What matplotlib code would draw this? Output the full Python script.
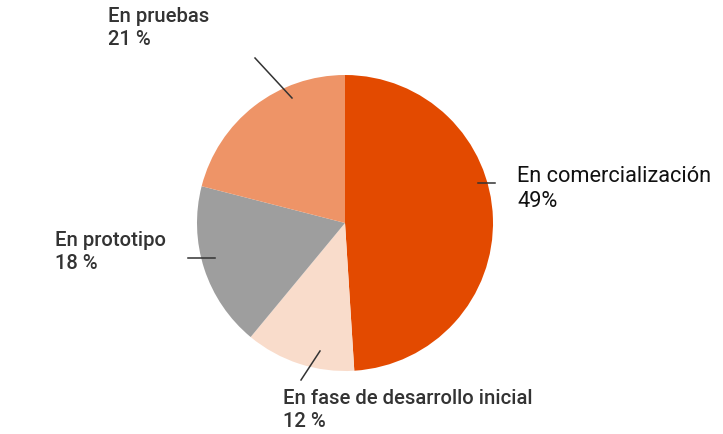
import matplotlib
matplotlib.use("Agg")
import matplotlib.pyplot as plt

labels = ["En comercialización", "En fase de desarrollo inicial", "En prototipo", "En pruebas"]
values = [49, 12, 18, 21]
pct_text = ["49%", "12 %", "18 %", "21 %"]
colors = ["#E34A00", "#F9DCCB", "#9E9E9E", "#EE9467"]

W, H = 723, 434

def py(y):
    # image pixel y (top-down) -> axes y
    return H - y

fig = plt.figure(figsize=(W / 100, H / 100), dpi=100)
ax = fig.add_axes([0, 0, 1, 1])

ax.pie(values, colors=colors, startangle=90, counterclock=False,
       center=(345, py(223)), radius=148, frame=True,
       wedgeprops=dict(linewidth=0))
ax.set_xlim(0, W)
ax.set_ylim(0, H)
ax.set_aspect("equal")
ax.axis("off")

# label layout: text top-left, leader line start/end (pixels)
layout = [
    dict(pos=(517, 166), line=((478, 183), (495, 183)), weight="normal", color="#111111", size=15.7, ls=1.24),
    dict(pos=(283, 389), line=((320, 351), (301, 380)), weight="medium", color="#333333", size=14.6, ls=1.25),
    dict(pos=(55, 231), line=((188, 258), (215, 258)), weight="medium", color="#333333", size=14.6, ls=1.25),
    dict(pos=(108, 7), line=((255, 58), (292, 98)), weight="medium", color="#333333", size=14.6, ls=1.25),
]

for lab, pct, lay in zip(labels, pct_text, layout):
    (x0, y0), (x1, y1) = lay["line"]
    ax.plot([x0, x1], [py(y0), py(y1)], color="#333333", linewidth=1.1)
    ax.text(lay["pos"][0], py(lay["pos"][1]), f"{lab}\n{pct}", ha="left", va="top",
            fontsize=lay["size"], family="Roboto", fontweight=lay["weight"],
            color=lay["color"], linespacing=lay["ls"])

fig.savefig("out.png", dpi=100)
